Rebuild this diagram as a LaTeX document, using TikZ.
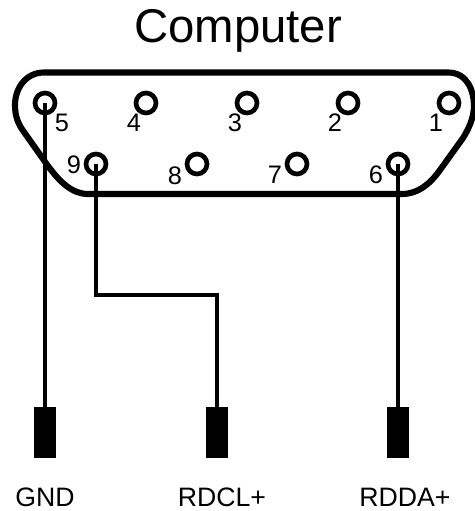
\documentclass[tikz,border=0pt]{standalone}
\usepackage{fontspec}
\setmainfont{Liberation Sans}
\tikzset{
  x=0.75pt,y=-0.75pt,
  pin/.style={circle,draw=black,line width=3.5pt,fill=white,inner sep=0pt,minimum size=15pt},
  wire/.style={draw=black,line width=2.3pt},
  plugbox/.style={rectangle,fill=black,inner sep=0pt,minimum width=16pt,minimum height=38.5pt},
  num/.style={inner sep=0pt,font=\fontsize{19pt}{19pt}\selectfont},
  lab/.style={inner sep=0pt,font=\fontsize{20pt}{20pt}\selectfont},
  shell/.style={draw=black,line width=4.6pt,line join=round}
}
\begin{document}
\begin{tikzpicture}
\useasboundingbox (0,0) rectangle (475,511);
\fill[white] (0,0) rectangle (475,511);
\node[inner sep=0pt,font=\fontsize{35.5pt}{35.5pt}\selectfont] (title) at (238,31) {Computer};
\draw[shell] (44,72.5) -- (448,72.5)
  .. controls (468,72.5) and (474,92) .. (474,106)
  .. controls (474,118) and (468,130) .. (463,138)
  -- (440,170)
  .. controls (430,184) and (418,194) .. (402,194)
  -- (88,194)
  .. controls (72,194) and (60,182) .. (48,166)
  -- (24,132)
  .. controls (18,124) and (15,116) .. (15,105)
  .. controls (15,88) and (26,72.5) .. (44,72.5) -- cycle;
\node[pin] (p5) at (45,103) {};
\node[pin] (p4) at (146,103) {};
\node[pin] (p3) at (247,103) {};
\node[pin] (p2) at (348,103) {};
\node[pin] (p1) at (449,103) {};
\node[pin] (p9) at (96,164) {};
\node[pin] (p8) at (197,164) {};
\node[pin] (p7) at (297,164) {};
\node[pin] (p6) at (398,164) {};
\node[num] (n5) at (62,123) {5};
\node[num] (n4) at (134,123) {4};
\node[num] (n3) at (235,123) {3};
\node[num] (n2) at (335,123) {2};
\node[num] (n1) at (436,123) {1};
\node[num] (n9) at (74,165) {9};
\node[num] (n8) at (175,176) {8};
\node[num] (n7) at (275,175) {7};
\node[num] (n6) at (376,175) {6};
\node[plugbox] (g) at (45,432.5) {};
\node[plugbox] (c) at (217,432.5) {};
\node[plugbox] (d) at (398,432.5) {};
\coordinate (b1) at (96,295);
\coordinate (b2) at (217,295);
\draw[wire] (p5.center) -- (g.north);
\draw[wire] (p9.center) -- (b1) -- (b2) -- (c.north);
\draw[wire] (p6.center) -- (d.north);
\node[lab] (tg) at (45,497) {GND};
\node[lab] (tc) at (222,497) {RDCL+};
\node[lab] (td) at (405,497) {RDDA+};
\end{tikzpicture}
\end{document}
